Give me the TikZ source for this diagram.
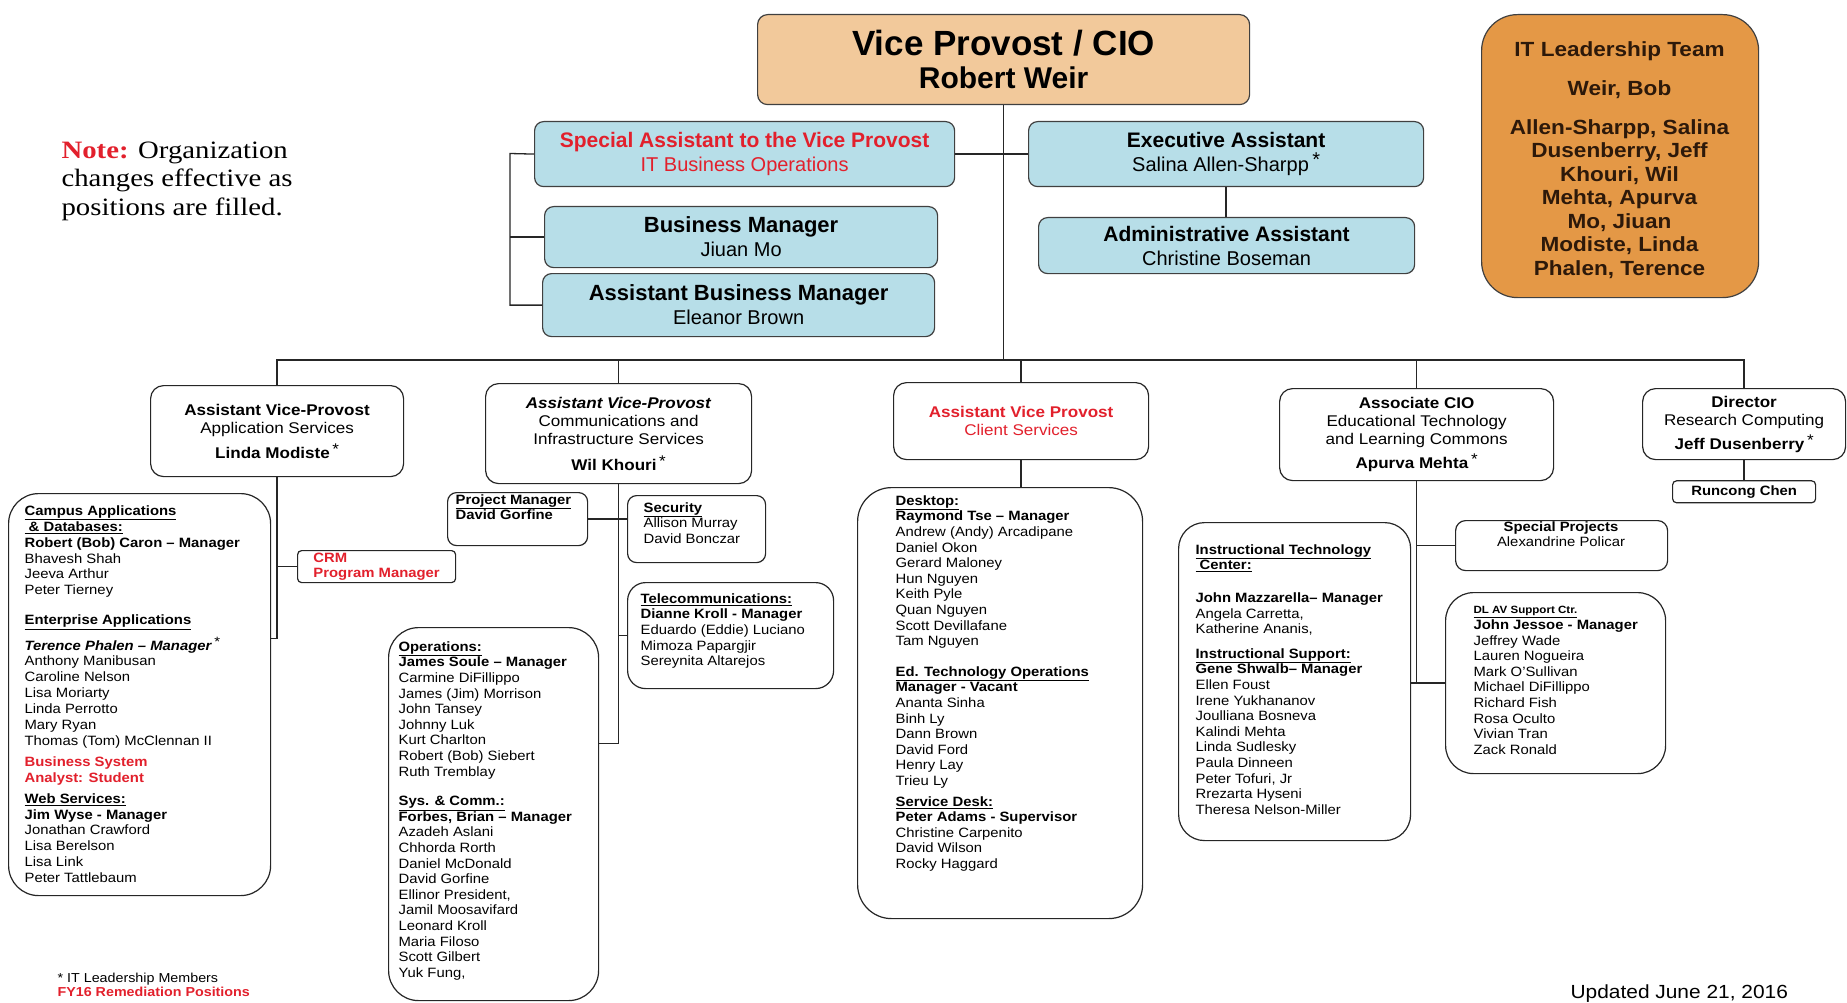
\documentclass[tikz,border=0pt]{standalone}
\usepackage{fontspec}
\setmainfont{Liberation Sans}
\newfontfamily\listfont{Liberation Sans}[FakeStretch=1.1]
\newfontfamily\notefont{Liberation Serif}[FakeStretch=1.15]
\usetikzlibrary{positioning}
\definecolor{vpfill}{RGB}{242,201,155}
\definecolor{ltfill}{RGB}{228,152,70}
\definecolor{lttext}{RGB}{45,25,10}
\definecolor{bluefill}{RGB}{183,222,232}
\definecolor{orgred}{RGB}{226,32,44}
\newcommand{\itl}{\,\raisebox{0.45ex}{*}}

\begin{document}
\begin{tikzpicture}[x=1pt, y=-1pt, line width=1.2pt]
  \useasboundingbox (0,0) rectangle (1847,1003);
  % Define styles
  \tikzstyle{line} = [draw, black!85, line width=1.3pt]
  \tikzstyle{chief} = [rectangle, rounded corners=10pt, draw=black!75, fill=vpfill, anchor=north west, align=center, inner sep=0pt]
  \tikzstyle{leaders} = [rectangle, rounded corners=36pt, draw=black!75, fill=ltfill, anchor=north west, inner sep=0pt]
  \tikzstyle{office} = [rectangle, rounded corners=9pt, draw=black!75, fill=bluefill, anchor=north west, align=center, inner sep=0pt, font=\fontsize{20}{24}\selectfont]
  \tikzstyle{unit} = [rectangle, rounded corners=13pt, draw=black!85, fill=white, anchor=north west, align=center, inner sep=0pt, font=\listfont\fontsize{15.5}{18}\selectfont]
  \tikzstyle{team} = [rectangle, rounded corners=30pt, draw=black!85, fill=white, anchor=north west, inner sep=0pt]
  \tikzstyle{group} = [rectangle, rounded corners=9pt, draw=black!85, fill=white, anchor=north west, inner sep=0pt]
  \tikzstyle{roster} = [anchor=north west, align=left, inner sep=0pt, font=\listfont\fontsize{13.5}{15.6}\selectfont]

  % Place nodes
  \node [chief, minimum width=492pt, minimum height=90pt, font=\fontsize{30}{33}\selectfont] (vicePro) at (757,14) {{\fontsize{35}{33}\selectfont\bfseries Vice Provost / CIO}\\ \textbf{Robert Weir}};
  \node [leaders, minimum width=277pt, minimum height=283pt] (itLeaders) at (1481,14) {};
  \node [anchor=north, align=center, inner sep=0pt, text=lttext, font=\listfont\bfseries\fontsize{20.5}{23.5}\selectfont] (itLeadersList) at (1619.5,41) {IT Leadership Team\\[16pt] Weir, Bob\\[15pt] Allen-Sharpp, Salina\\ Dusenberry, Jeff\\ Khouri, Wil\\ Mehta, Apurva\\ Mo, Jiuan\\ Modiste, Linda\\ Phalen, Terence};

  \node [office, minimum width=420pt, minimum height=65pt, text=orgred] (specAssist) at (534,121) {{\fontsize{21}{24}\selectfont\bfseries Special Assistant to the Vice Provost}\\ IT Business Operations};
  \node [office, minimum width=395pt, minimum height=65pt] (execAssist) at (1028,121) {{\fontsize{21}{25}\selectfont\bfseries Executive Assistant}\\ Salina Allen-Sharpp\itl};
  \node [office, minimum width=393pt, minimum height=61pt] (bizMgr) at (544,206) {{\fontsize{22}{24}\selectfont\bfseries Business Manager}\\ Jiuan Mo};
  \node [office, minimum width=392pt, minimum height=63pt] (asstBizMgr) at (542,273) {{\fontsize{22}{24}\selectfont\bfseries Assistant Business Manager}\\ Eleanor Brown};
  \node [office, minimum width=376pt, minimum height=56pt] (adminAssist) at (1038,217) {{\fontsize{21}{24}\selectfont\bfseries Administrative Assistant}\\ Christine Boseman};

  \node [unit, minimum width=253pt, minimum height=91pt] (appSvc) at (150,385) {\textbf{Assistant Vice-Provost}\\ Application Services\\[7pt] \textbf{Linda Modiste}\itl};
  \node [unit, minimum width=266pt, minimum height=100pt] (commSvc) at (485,383) {\textbf{\textit{Assistant Vice-Provost}}\\ Communications and\\ Infrastructure Services\\[8pt] \textbf{Wil Khouri}\itl};
  \node [unit, minimum width=255pt, minimum height=77pt, text=orgred] (clientSvc) at (893,382) {\textbf{Assistant Vice Provost}\\ Client Services};
  \node [unit, minimum width=274pt, minimum height=92pt] (assocCIO) at (1279,388) {\textbf{Associate CIO}\\ Educational Technology\\ and Learning Commons\\[6pt] \textbf{Apurva Mehta}\itl};
  \node [unit, minimum width=203pt, minimum height=71pt] (director) at (1642,388) {\textbf{Director}\\ Research Computing\\[6pt] \textbf{Jeff Dusenberry}\itl};
  \node [group, rounded corners=4pt, below=20pt of director, minimum width=143pt, minimum height=22pt, font=\listfont\bfseries\fontsize{13.5}{15.6}\selectfont] (runcong) {Runcong Chen};

  % Application services
  \node [team, minimum width=262pt, minimum height=402pt] (campus) at (8,493) {};
  \node [roster, font=\listfont\fontsize{13.5}{15.9}\selectfont] (campusList) at (24,505) {\underline{\textbf{Campus Applications}}\\ \underline{\textbf{\ \& Databases:}}\\ \textbf{Robert (Bob) Caron – Manager}\\ Bhavesh Shah\\ Jeeva Arthur\\ Peter Tierney\\[14pt] \underline{\textbf{Enterprise Applications}}\\[7pt] \textbf{\textit{Terence Phalen – Manager}}\itl\\ Anthony Manibusan\\ Caroline Nelson\\ Lisa Moriarty\\ Linda Perrotto\\ Mary Ryan\\ Thomas (Tom) McClennan II\\[5pt] \textcolor{orgred}{\textbf{Business System}}\\ \textcolor{orgred}{\textbf{Analyst: Student}}\\[5pt] \underline{\textbf{Web Services:}}\\ \textbf{Jim Wyse - Manager}\\ Jonathan Crawford\\ Lisa Berelson\\ Lisa Link\\ Peter Tattlebaum};
  \node [group, rounded corners=4pt, minimum width=158pt, minimum height=32pt, align=left, text=orgred, font=\listfont\bfseries\fontsize{13.5}{15.6}\selectfont] (crm) at (297,550) {CRM\\ Program Manager};

  % Communications and infrastructure
  \node [group, minimum width=140pt, minimum height=53pt] (projMgr) at (447,492) {};
  \node [roster] (projMgrList) at (455,494) {\underline{\textbf{Project Manager}}\\ \textbf{David Gorfine}};
  \node [group, minimum width=138pt, minimum height=67pt] (security) at (627,495) {};
  \node [roster] (securityList) at (643,502) {\underline{\textbf{Security}}\\ Allison Murray\\ David Bonczar};
  \node [group, rounded corners=18pt, minimum width=206pt, minimum height=106pt] (telecom) at (627,582) {};
  \node [roster] (telecomList) at (640,593) {\underline{\textbf{Telecommunications:}}\\ \textbf{Dianne Kroll - Manager}\\ Eduardo (Eddie) Luciano\\ Mimoza Papargjir\\ Sereynita Altarejos};
  \node [team, minimum width=210pt, minimum height=373pt] (ops) at (388,627) {};
  \node [roster] (opsList) at (398,641) {\underline{\textbf{Operations:}}\\ \textbf{James Soule – Manager}\\ Carmine DiFillippo\\ James (Jim) Morrison\\ John Tansey\\ Johnny Luk\\ Kurt Charlton\\ Robert (Bob) Siebert\\ Ruth Tremblay\\[14pt] \underline{\textbf{Sys. \& Comm.:}}\\ \textbf{Forbes, Brian – Manager}\\ Azadeh Aslani\\ Chhorda Rorth\\ Daniel McDonald\\ David Gorfine\\ Ellinor President,\\ Jamil Moosavifard\\ Leonard Kroll\\ Maria Filoso\\ Scott Gilbert\\ Yuk Fung,};

  % Client services
  \node [team, rounded corners=34pt, minimum width=285pt, minimum height=431pt] (desktop) at (857,487) {};
  \node [roster] (desktopList) at (895,495) {\underline{\textbf{Desktop:}}\\ \textbf{Raymond Tse – Manager}\\ Andrew (Andy) Arcadipane\\ Daniel Okon\\ Gerard Maloney\\ Hun Nguyen\\ Keith Pyle\\ Quan Nguyen\\ Scott Devillafane\\ Tam Nguyen\\[15pt] \underline{\textbf{Ed. Technology Operations}}\\ \textbf{Manager - Vacant}\\ Ananta Sinha\\ Binh Ly\\ Dann Brown\\ David Ford\\ Henry Lay\\ Trieu Ly\\[5pt] \underline{\textbf{Service Desk:}}\\ \textbf{Peter Adams - Supervisor}\\ Christine Carpenito\\ David Wilson\\ Rocky Haggard};

  % Educational technology
  \node [team, rounded corners=26pt, minimum width=232pt, minimum height=318pt] (itc) at (1178,522) {};
  \node [roster] (itcList) at (1195,544) {\underline{\textbf{Instructional Technology}}\\ \underline{\textbf{\ Center:}}\\[17pt] \textbf{John Mazzarella– Manager}\\ Angela Carretta,\\ Katherine Ananis,\\[9pt] \underline{\textbf{Instructional Support:}}\\ \textbf{Gene Shwalb– Manager}\\ Ellen Foust\\ Irene Yukhananov\\ Joulliana Bosneva\\ Kalindi Mehta\\ Linda Sudlesky\\ Paula Dinneen\\ Peter Tofuri, Jr\\ Rrezarta Hyseni\\ Theresa Nelson-Miller};
  \node [group, rounded corners=10pt, minimum width=212pt, minimum height=50pt] (specProj) at (1455,520) {};
  \node [roster, anchor=north, align=center] (specProjList) at (1561,521) {\textbf{Special Projects}\\ Alexandrine Policar};
  \node [team, rounded corners=28pt, minimum width=220pt, minimum height=181pt] (dlav) at (1445,592) {};
  \node [roster] (dlavList) at (1473,606) {{\fontsize{10.5}{13}\selectfont\underline{\textbf{DL AV Support Ctr.}}}\\ \textbf{John Jessoe - Manager}\\ Jeffrey Wade\\ Lauren Nogueira\\ Mark O’Sullivan\\ Michael DiFillippo\\ Richard Fish\\ Rosa Oculto\\ Vivian Tran\\ Zack Ronald};

  % Notes
  \node [anchor=north west, align=left, inner sep=0pt, font=\notefont\fontsize{25}{28.5}\selectfont] (note) at (61,141) {\textcolor{orgred}{\textbf{Note:}} Organization\\ changes effective as\\ positions are filled.};
  \node [anchor=north west, align=left, inner sep=0pt, font=\listfont\fontsize{13}{14}\selectfont] (legend) at (57,972) {* IT Leadership Members\\ \textcolor{orgred}{\textbf{FY16 Remediation Positions}}};
  \node [anchor=base west, inner sep=0pt, font=\listfont\fontsize{19}{21}\selectfont] (updated) at (1570,998) {Updated June 21, 2016};

  \coordinate (bus) at (0,360);
  \coordinate (brk) at (510,153.5);

  % Draw edges
  \path [line] (vicePro.south) -- (vicePro.south |- bus);
  \path [line] (specAssist.east) -- (execAssist.west);
  \path [line] (execAssist.south) -- (execAssist.south |- adminAssist.north);
  \path [line] (specAssist.west) -- (brk) |- (asstBizMgr.west);
  \path [line] (brk |- bizMgr.west) -- (bizMgr.west);
  \path [line] (appSvc.north) -- (appSvc.north |- bus) -- (director.north |- bus) -- (director.north);
  \path [line] (commSvc.north) -- (commSvc.north |- bus);
  \path [line] (clientSvc.north) -- (clientSvc.north |- bus);
  \path [line] (assocCIO.north) -- (assocCIO.north |- bus);
  \path [line] (director.south) -- (runcong.north);
  \path [line] (appSvc.south) -- ++(0,161) coordinate (appJoin) -- (appJoin -| campus.east);
  \path [line] (appSvc.south |- crm.west) -- (crm.west);
  \path [line] (commSvc.south) -- ++(0,259) coordinate (commJoin) -- (commJoin -| ops.east);
  \path [line] (projMgr.east) -- (projMgr.east -| security.west);
  \path [line] (commSvc.south |- telecom.west) -- (telecom.west);
  \path [line] (clientSvc.south) -- (clientSvc.south |- desktop.north);
  \path [line] (assocCIO.south) -- (assocCIO.south |- dlav.west) -- (dlav.west);
  \path [line] (assocCIO.south |- dlav.west) -- (dlav.west -| itc.east);
  \path [line] (assocCIO.south |- specProj.west) -- (specProj.west);
\end{tikzpicture}
\end{document}
